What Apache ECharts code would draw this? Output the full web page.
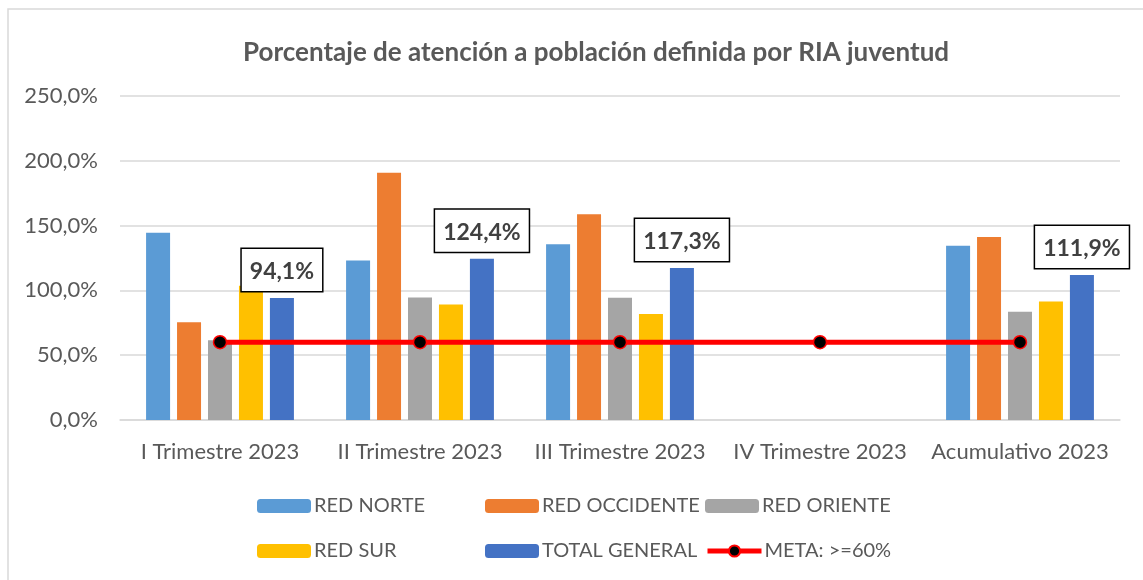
<!DOCTYPE html>
<html>
<head>
    <meta charset="utf-8">
    <script src="https://cdn.jsdelivr.net/npm/echarts@6/dist/echarts.min.js"></script>
    <style>
        * { margin: 0; padding: 0; }
        #main { width: 1143px; height: 580px; background: #fff; }
    </style>
</head>
<body>
    <div id="main"></div>
    <script type="text/javascript">
        var categorias = ['I Trimestre 2023', 'II Trimestre 2023', 'III Trimestre 2023', 'IV Trimestre 2023', 'Acumulativo 2023'];
        var redNorte = [144.4, 123.1, 135.6, null, 134.4];
        var redOccidente = [75.4, 190.8, 158.7, null, 141.3];
        var redOriente = [61.5, 94.6, 94.4, null, 83.6];
        var redSur = [103.6, 89.2, 81.8, null, 91.5];
        var totalGeneral = [94.1, 124.4, 117.3, null, 111.9];
        var meta = [60, 60, 60, 60, 60];

        var fuente = 'Lato, "Open Sans", sans-serif';
        var gris = '#595959';

        function pct(v) {
            return v.toFixed(1).replace('.', ',') + '%';
        }

        function barra(nombre, datos, color) {
            return {
                name: nombre,
                type: 'bar',
                data: datos,
                barWidth: 24,
                barGap: '29%',
                itemStyle: { color: color }
            };
        }

        var series = [
            barra('RED NORTE', redNorte, '#5B9BD5'),
            barra('RED OCCIDENTE', redOccidente, '#ED7D31'),
            barra('RED ORIENTE', redOriente, '#A5A5A5'),
            barra('RED SUR', redSur, '#FFC000'),
            barra('TOTAL GENERAL', totalGeneral, '#4472C4'),
            {
                name: 'META: >=60%',
                type: 'line',
                data: meta,
                symbol: 'circle',
                symbolSize: 13,
                z: 5,
                lineStyle: { color: '#FF0000', width: 5 },
                itemStyle: { color: '#000', borderColor: '#FF0000', borderWidth: 1.5 }
            }
        ];
        // etiquetas con recuadro solo en el total
        series[4].label = {
            show: true,
            position: 'top',
            distance: 7,
            formatter: function(p) { return pct(p.value); },
            fontFamily: fuente,
            fontSize: 23,
            fontWeight: 'bold',
            color: '#404040',
            backgroundColor: '#fff',
            borderColor: '#000',
            borderWidth: 1.5,
            padding: [11, 8, 8, 8]
        };

        // leyenda en dos filas, columnas fijas
        var leyendas = [];
        var cols = [252, 480, 700];
        var filas = [491, 536];
        for (var i = 0; i < series.length; i++) {
            leyendas.push({
                data: [series[i].name],
                left: cols[i % 3],
                top: filas[Math.floor(i / 3)],
                itemWidth: 54,
                itemHeight: 14,
                itemGap: 0,
                selectedMode: false,
                lineStyle: { width: 5 },
                textStyle: { fontFamily: fuente, fontSize: 20, color: gris, padding: [0, 0, 0, -2] }
            });
        }

        var myChart = echarts.init(document.getElementById('main'));
        myChart.setOption({
            animation: false,
            title: {
                text: 'Porcentaje de atención a población definida por RIA juventud',
                left: 238,
                top: 35,
                textStyle: { fontFamily: fuente, fontSize: 26, fontWeight: 'bold', color: gris }
            },
            legend: leyendas,
            grid: { left: 120, right: 23, top: 96, bottom: 160 },
            xAxis: {
                type: 'category',
                data: categorias,
                axisTick: { show: false },
                axisLine: { lineStyle: { color: '#D9D9D9', width: 1.5 } },
                axisLabel: { interval: 0, fontFamily: fuente, fontSize: 22, color: gris, margin: 21 }
            },
            yAxis: {
                type: 'value',
                min: 0,
                max: 250,
                interval: 50,
                axisLine: { show: false },
                axisTick: { show: false },
                splitLine: { lineStyle: { color: '#D9D9D9', width: 1.5 } },
                axisLabel: {
                    fontFamily: fuente, fontSize: 22, color: gris, margin: 22,
                    formatter: function(v) { return pct(v); }
                }
            },
            graphic: [{
                type: 'rect',
                shape: { x: 8, y: 9, width: 1160, height: 600 },
                style: { fill: 'none', stroke: '#D9D9D9', lineWidth: 1.5 },
                silent: true
            }],
            series: series
        });
    </script>
</body>
</html>
